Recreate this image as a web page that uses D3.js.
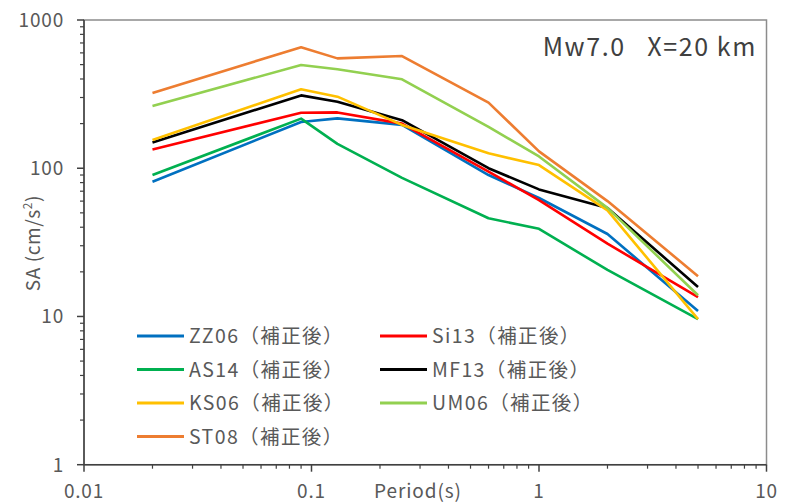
<!DOCTYPE html>
<html><head><meta charset="utf-8">
<script src="https://cdn.jsdelivr.net/npm/d3@7"></script>
<style>
body{margin:0;background:#fff;}
svg{display:block;font-family:"Noto Sans CJK JP","Noto Sans",sans-serif;}
</style></head>
<body>
<svg id="chart" width="785" height="504"></svg>
<script>
const periods = [0.02, 0.09, 0.13, 0.25, 0.6, 1.0, 2.0, 5.0];
const seriesNames = ["ZZ06（補正後）","Si13（補正後）","AS14（補正後）","MF13（補正後）","KS06（補正後）","UM06（補正後）","ST08（補正後）"];
const seriesColors = ["#0070C0","#FF0000","#00B050","#000000","#FFC000","#92D050","#ED7D31"];
const zz06 = [81, 205, 217, 196, 90, 63, 36, 10.9];
const si13 = [134, 237, 238, 200, 95, 61, 31, 13.5];
const as14 = [90, 216, 146, 86, 46, 39, 20.6, 9.6];
const mf13 = [149, 310, 281, 211, 100, 72, 54, 15.8];
const ks06 = [155, 341, 304, 196, 126, 105, 52, 9.6];
const um06 = [263, 497, 465, 398, 190, 120, 54, 13.9];
const st08 = [322, 655, 551, 571, 277, 130, 60, 18.7];
const seriesValues = [zz06, si13, as14, mf13, ks06, um06, st08];
const xTickLabels = ["0.01","0.1","1","10"];
const yTickLabels = ["1","10","100","1000"];
const titleText = "Mw7.0   X=20 km";
const xAxisTitle = "Period(s)";

const svg = d3.select("#chart");
const L = 84, R = 766.5, T = 20, B = 464.7;
const x = d3.scaleLog().domain([0.01, 10]).range([L, R]);
const y = d3.scaleLog().domain([1, 1000]).range([B, T]);

// frame (top/right gray)
svg.append("rect").attr("x", L).attr("y", T).attr("width", R - L).attr("height", B - T)
  .attr("fill", "none").attr("stroke", "#8c8c8c").attr("stroke-width", 1.5);

// minor/major ticks
const xMinor = [], yMinor = [];
for (let d = 0.01; d < 10; d *= 10) for (let k = 2; k <= 9; k++) xMinor.push(d * k);
for (let d = 1; d < 1000; d *= 10) for (let k = 2; k <= 9; k++) yMinor.push(d * k);
const xMajor = xTickLabels.map(Number), yMajor = yTickLabels.map(Number);

const axisCol = "#404040";
const g = svg.append("g");
g.selectAll(".xmin").data(xMinor).join("line")
  .attr("x1", d => x(d)).attr("x2", d => x(d)).attr("y1", B).attr("y2", B + 4)
  .attr("stroke", axisCol).attr("stroke-width", 1.2);
g.selectAll(".xmaj").data(xMajor).join("line")
  .attr("x1", d => x(d)).attr("x2", d => x(d)).attr("y1", B).attr("y2", B + 7)
  .attr("stroke", axisCol).attr("stroke-width", 1.5);
g.selectAll(".ymin").data(yMinor).join("line")
  .attr("x1", L - 4).attr("x2", L).attr("y1", d => y(d)).attr("y2", d => y(d))
  .attr("stroke", axisCol).attr("stroke-width", 1.2);
g.selectAll(".ymaj").data(yMajor).join("line")
  .attr("x1", L - 7).attr("x2", L).attr("y1", d => y(d)).attr("y2", d => y(d))
  .attr("stroke", axisCol).attr("stroke-width", 1.5);
g.append("line").attr("x1", L).attr("x2", R).attr("y1", B).attr("y2", B).attr("stroke", axisCol).attr("stroke-width", 1.5);
g.append("line").attr("x1", L).attr("x2", L).attr("y1", T).attr("y2", B).attr("stroke", axisCol).attr("stroke-width", 1.5);

// tick labels
const labCol = "#595959";
svg.selectAll(".xl").data(xTickLabels).join("text")
  .attr("x", d => x(+d)).attr("y", 498).attr("text-anchor", "middle")
  .attr("font-size", 19).attr("letter-spacing", 0.8).attr("fill", labCol).text(d => d);
svg.selectAll(".yl").data(yTickLabels).join("text")
  .attr("x", 64).attr("y", d => y(+d) + 7).attr("text-anchor", "end")
  .attr("font-size", 19).attr("letter-spacing", 0.8).attr("fill", labCol).text(d => d);

// axis titles
svg.append("text").attr("x", 418).attr("y", 498).attr("text-anchor", "middle")
  .attr("font-size", 19).attr("letter-spacing", 0.9).attr("fill", labCol).text(xAxisTitle);
const yt = svg.append("text").attr("transform", "translate(40,243) rotate(-90)")
  .attr("text-anchor", "middle").attr("font-size", 19).attr("letter-spacing", 0.6).attr("fill", labCol);
yt.append("tspan").text("SA (cm/s");
yt.append("tspan").attr("font-size", 12).attr("dy", -8).text("2");
yt.append("tspan").attr("dy", 8).text(")");

// title
svg.append("text").attr("x", 757).attr("y", 56).attr("text-anchor", "end")
  .attr("font-size", 25).attr("letter-spacing", 1.6).attr("fill", "#404040").style("white-space", "pre").text(titleText);

// lines
const line = d3.line().x((d, i) => x(periods[i])).y(d => y(d));
svg.append("g").selectAll("path").data(seriesValues).join("path")
  .attr("d", d => line(d)).attr("fill", "none")
  .attr("stroke", (d, i) => seriesColors[i]).attr("stroke-width", 2.6)
  .attr("stroke-linejoin", "round");

// legend
const legX = [137, 380], legY0 = 336, legDY = 33.5;
const leg = svg.append("g").selectAll("g").data(seriesNames).join("g")
  .attr("transform", (d, i) => `translate(${legX[i % 2]},${legY0 + Math.floor(i / 2) * legDY})`);
leg.append("line").attr("x1", 0).attr("x2", 47).attr("y1", 0).attr("y2", 0)
  .attr("stroke", (d, i) => seriesColors[i]).attr("stroke-width", 2.8);
leg.append("text").attr("x", 52).attr("y", 7).attr("font-size", 19.5).attr("letter-spacing", 1.4).attr("fill", labCol).text(d => d);
</script>
</body></html>
